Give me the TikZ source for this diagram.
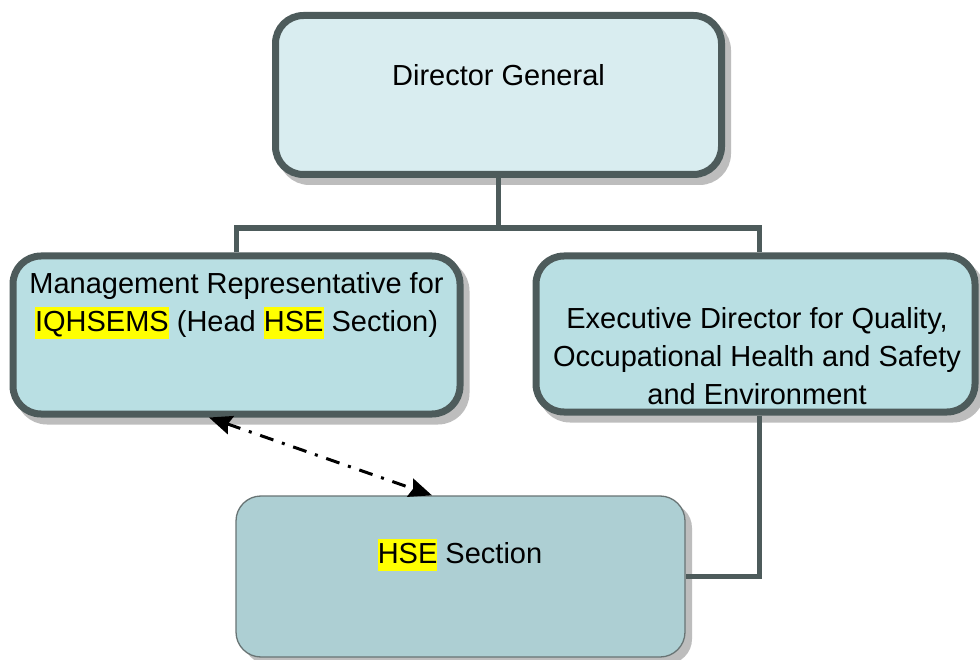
\documentclass[tikz,border=0pt]{standalone}
\usepackage{fontspec}
\setmainfont{Liberation Sans}
\usetikzlibrary{arrows.meta,shadows}
\definecolor{bord}{HTML}{4D5B5B}
\definecolor{fillA}{HTML}{D9EDF0}
\definecolor{fillB}{HTML}{B9DFE3}
\definecolor{fillC}{HTML}{ADCFD3}
\definecolor{shd}{HTML}{BDBDBD}
\definecolor{hly}{HTML}{FFFF00}
\newcommand{\hlt}[1]{{\setlength{\fboxsep}{0pt}\colorbox{hly}{\rule[-8pt]{0pt}{32pt}#1}}}
\begin{document}
\begin{tikzpicture}[x=1pt,y=-1pt,
  thickbox/.style={draw=bord, line width=7pt, rounded corners=28pt, inner sep=0pt,
    drop shadow={shadow xshift=6pt, shadow yshift=-7pt, fill=shd, draw=shd, line width=7pt, opacity=1}},
  thinbox/.style={draw=bord!85, line width=1.3pt, fill=fillC, rounded corners=25pt, inner sep=0pt,
    drop shadow={shadow xshift=7pt, shadow yshift=-7pt, fill=shd, opacity=1}},
  txt/.style={inner sep=0pt, align=center, font=\fontsize{29}{38}\selectfont},
  conn/.style={draw=bord, line width=5.5pt, line join=miter},
  dashar/.style={draw=black, line width=3pt, dash pattern=on 14pt off 9pt on 3pt off 9pt,
    {Stealth[length=23pt,width=19pt,inset=3pt]}-{Stealth[length=23pt,width=19pt,inset=3pt]}}
]
\useasboundingbox (0,0) rectangle (980,660);
\fill[white] (0,0) rectangle (980,660);

% boxes
\node[thickbox, fill=fillA, minimum width=446pt, minimum height=159pt] (dg) at (498.5,95) {};
\node[thickbox, fill=fillB, minimum width=447pt, minimum height=158pt] (mgmt) at (236.5,335) {};
\node[thickbox, fill=fillB, minimum width=439pt, minimum height=156pt] (exec) at (755.5,334) {};
\node[thinbox, minimum width=449pt, minimum height=161pt] (hse) at (460.5,576.5) {};

% texts
\node[txt, anchor=base] (dgt) at (498.5,86) {Director General};
\node[txt, anchor=north] (mgmtt) at (236.5,271) {\rule{0pt}{22pt}Management Representative for\\\hlt{IQHSEMS} (Head \hlt{HSE} Section)};
\node[txt, anchor=north] (exect) at (757,306) {\rule{0pt}{22pt}Executive Director for Quality,\\Occupational Health and Safety\\and Environment};
\node[txt, anchor=base] (hset) at (460,563.3) {\hlt{HSE} Section};

% connectors
\coordinate (bus) at (498.5,228);
\draw[conn] (dg.south) -- (bus);
\draw[conn] (mgmt.north) |- (bus) -| ([xshift=4pt]exec.north);
\draw[conn] ([xshift=4pt]exec.south) |- (hse.east);

% dash-dot double arrow
\draw[dashar] ([xshift=-27.5pt]mgmt.south) -- ([xshift=-28.5pt]hse.north);
\end{tikzpicture}
\end{document}
